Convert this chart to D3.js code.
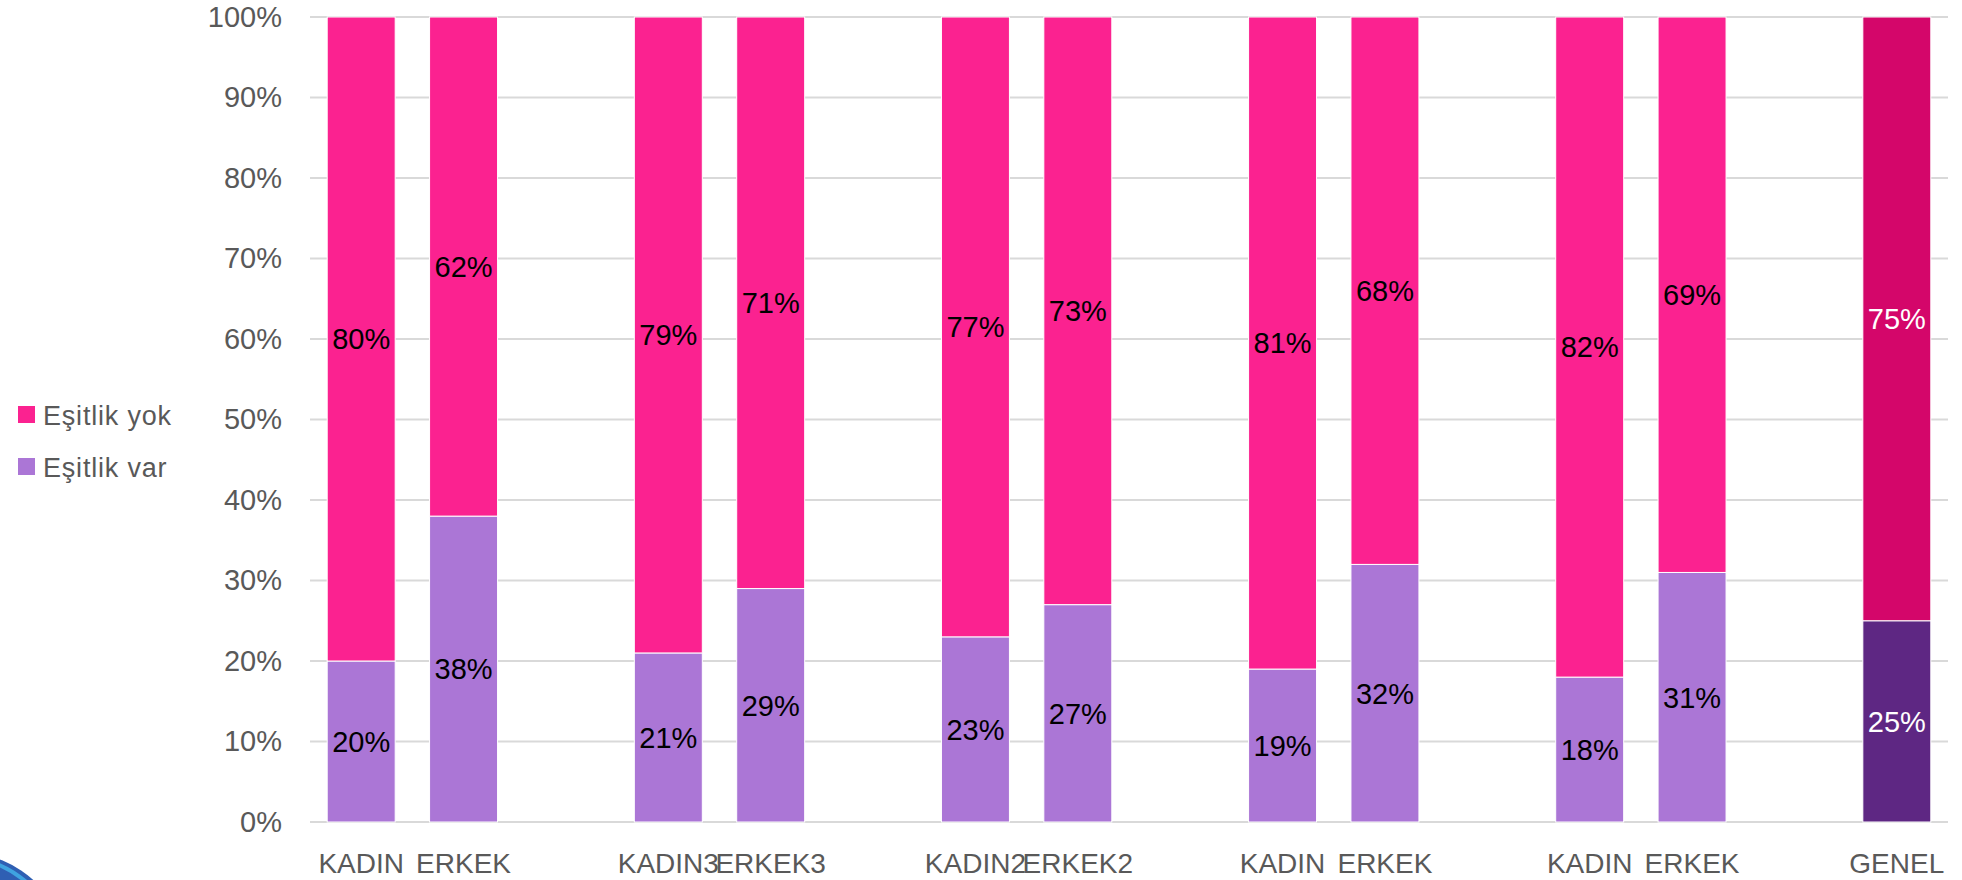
<html>
<head>
<meta charset="utf-8">
<script src="https://d3js.org/d3.v7.min.js"></script>
<style>
  body { margin: 0; background: #fff; }
  text { font-family: "Liberation Sans", Arial, sans-serif; }
</style>
</head>
<body>
<div id="chart"></div>
<script>
// categories (blank ones are the spacer slots of the original sheet)
var categories = ["KADIN", "ERKEK", "", "KADIN3", "ERKEK3", "", "KADIN2", "ERKEK2", "", "KADIN", "ERKEK", "", "KADIN", "ERKEK", "", "GENEL"];
var esitlikVar = [20, 38, null, 21, 29, null, 23, 27, null, 19, 32, null, 18, 31, null, 25];
var esitlikYok = [80, 62, null, 79, 71, null, 77, 73, null, 81, 68, null, 82, 69, null, 75];
var yTicks = [0, 10, 20, 30, 40, 50, 60, 70, 80, 90, 100];
var seriesNames = ["Eşitlik yok", "Eşitlik var"];

var W = 1962, H = 880;
var margin = {top: 17, left: 310, right: 14, bottom: 58};
var width = W - margin.left - margin.right;
var height = H - margin.top - margin.bottom;

var pink = "#FB2290", lilac = "#AB76D6";
var genelTop = "#D4066A", genelBottom = "#5E2783";

var svg = d3.select("#chart").append("svg")
  .attr("width", W).attr("height", H);

// little blue logo piece cut at the corner
svg.append("circle").attr("cx", -40).attr("cy", 962).attr("r", 110).attr("fill", "#2f5fb3");
svg.append("circle").attr("cx", -44).attr("cy", 964).attr("r", 108).attr("fill", "none")
  .attr("stroke", "#3fa3e0").attr("stroke-width", 4);

var g = svg.append("g").attr("transform", "translate(" + margin.left + "," + margin.top + ")");

var x = d3.scaleBand().domain(d3.range(categories.length)).range([0, width]).paddingInner(0.336).paddingOuter(0.168);
var y = d3.scaleLinear().domain([0, 100]).range([height, 0]);

// gridlines
g.selectAll(".grid").data(yTicks).enter().append("line")
  .attr("x1", 0).attr("x2", width)
  .attr("y1", function(d) { return y(d); })
  .attr("y2", function(d) { return y(d); })
  .attr("stroke", "#d9d9d9").attr("stroke-width", 2);

// y axis labels
var yAxis = g.append("g").call(d3.axisLeft(y).tickValues(yTicks).tickSize(0).tickPadding(28)
  .tickFormat(function(d) { return d + "%"; }));
yAxis.select(".domain").remove();
yAxis.selectAll("text").attr("font-size", 29).attr("fill", "#595959")
  .style("font-family", "\"Liberation Sans\", Arial, sans-serif");

var rows = categories.map(function(c, i) {
  return {i: i, name: c, v: esitlikVar[i], k: esitlikYok[i]};
}).filter(function(d) { return d.v != null; });

var isGenel = function(d) { return d.name === "GENEL"; };

// bottom segments
g.selectAll(".bvar").data(rows).enter().append("rect")
  .attr("x", function(d) { return x(d.i); })
  .attr("width", x.bandwidth())
  .attr("y", function(d) { return y(d.v); })
  .attr("height", function(d) { return y(0) - y(d.v); })
  .attr("fill", function(d) { return isGenel(d) ? genelBottom : lilac; })
  .attr("stroke", "#fff").attr("stroke-width", 1);

// top segments
g.selectAll(".byok").data(rows).enter().append("rect")
  .attr("x", function(d) { return x(d.i); })
  .attr("width", x.bandwidth())
  .attr("y", function(d) { return y(d.v + d.k); })
  .attr("height", function(d) { return y(d.v) - y(d.v + d.k); })
  .attr("fill", function(d) { return isGenel(d) ? genelTop : pink; })
  .attr("stroke", "#fff").attr("stroke-width", 1);

// data labels
function addLabels(cls, lo, val) {
  g.selectAll("." + cls).data(rows).enter().append("text")
    .attr("x", function(d) { return x(d.i) + x.bandwidth() / 2; })
    .attr("y", function(d) { return y(lo(d) + val(d) / 2); })
    .attr("dy", "0.36em")
    .attr("text-anchor", "middle")
    .attr("font-size", 29)
    .attr("fill", function(d) { return isGenel(d) ? "#fff" : "#000"; })
    .text(function(d) { return val(d) + "%"; });
}
addLabels("lvar", function() { return 0; }, function(d) { return d.v; });
addLabels("lyok", function(d) { return d.v; }, function(d) { return d.k; });

// category labels
g.selectAll(".cat").data(categories.map(function(c, i) { return {i: i, c: c}; })).enter()
  .append("text")
  .attr("x", function(d) { return x(d.i) + x.bandwidth() / 2; })
  .attr("y", height + 51)
  .attr("text-anchor", "middle")
  .attr("font-size", 28)
  .attr("fill", "#595959")
  .text(function(d) { return d.c; });

// legend
var legColors = [pink, lilac];
var leg = svg.append("g").attr("transform", "translate(18,406)");
seriesNames.forEach(function(n, i) {
  leg.append("rect").attr("x", 0).attr("y", i * 52).attr("width", 17).attr("height", 17).attr("fill", legColors[i]);
  leg.append("text").attr("x", 25).attr("y", i * 52 + 19)
    .attr("font-size", 27).attr("letter-spacing", 0.8).attr("fill", "#595959").text(n);
});
</script>
</body>
</html>
